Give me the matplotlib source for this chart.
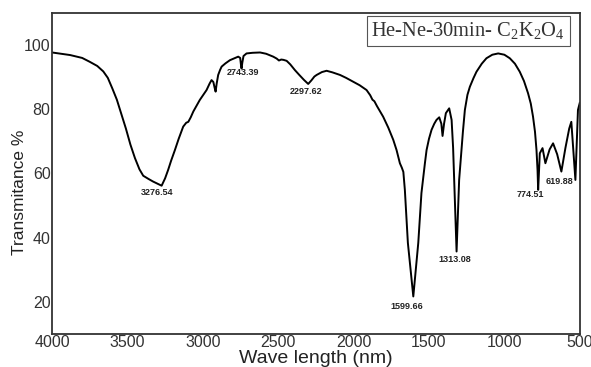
import matplotlib
matplotlib.use("Agg")
import matplotlib.pyplot as plt

plt.rcParams['font.family'] = ['Liberation Sans', 'DejaVu Sans']

wavenumber = [4000, 3940, 3880, 3800, 3750, 3700, 3660, 3630, 3600, 3570, 3540,
              3510, 3480, 3450, 3420, 3395, 3360, 3330, 3300, 3273, 3250, 3230,
              3210, 3185, 3160, 3130, 3110, 3096, 3080, 3063, 3040, 3020, 3000,
              2975, 2955, 2942, 2930, 2922, 2915, 2908, 2898, 2885, 2875, 2850,
              2820, 2790, 2765, 2752, 2746, 2743, 2738, 2730, 2710, 2670, 2620,
              2580, 2533, 2510, 2495, 2480, 2465, 2444, 2420, 2389, 2360, 2330,
              2301, 2280, 2260, 2245, 2210, 2179, 2140, 2090, 2050, 2003, 1960,
              1914, 1890, 1875, 1862, 1845, 1804, 1770, 1737, 1715, 1693, 1680,
              1670, 1660, 1640, 1604, 1571, 1550, 1527, 1516, 1500, 1483, 1465,
              1450, 1432, 1418, 1410, 1400, 1388, 1366, 1350, 1340, 1317, 1300,
              1290, 1275, 1262, 1245, 1229, 1205, 1185, 1150, 1119, 1080, 1041,
              1000, 964, 930, 898, 870, 843, 825, 810, 797, 787, 780, 776, 765,
              747, 728, 700, 677, 650, 622, 595, 570, 556, 540, 529, 512, 500]
transmittance = [97.7, 97.3, 96.9, 96.0, 94.8, 93.5, 91.8, 89.8, 86.5, 83.0, 78.5,
                 74.0, 69.0, 64.8, 61.3, 59.3, 58.3, 57.5, 56.8, 56.2, 58.5, 61.1,
                 64.0, 67.3, 70.8, 74.6, 75.8, 76.1, 77.5, 79.3, 81.2, 82.9, 84.3,
                 86.0, 88.0, 89.1, 88.5, 86.8, 85.5, 88.0, 90.7, 92.3, 93.3, 94.3,
                 95.3, 95.9, 96.4, 96.0, 93.5, 92.7, 94.5, 96.6, 97.4, 97.6, 97.7,
                 97.3, 96.4, 95.8, 95.2, 95.5, 95.4, 95.1, 94.0, 92.2, 90.7, 89.2,
                 87.9, 89.0, 90.2, 90.7, 91.6, 92.0, 91.5, 90.7, 89.8, 88.6, 87.5,
                 86.0, 84.4, 83.0, 82.5, 81.0, 77.7, 74.3, 70.5, 67.3, 63.2, 61.8,
                 60.5, 54.9, 38.4, 21.7, 38.4, 53.9, 63.2, 67.3, 70.8, 73.6, 75.5,
                 76.7, 77.5, 75.5, 71.7, 75.5, 78.8, 80.3, 76.7, 68.0, 35.7, 58.0,
                 64.0, 73.0, 79.8, 84.5, 87.0, 89.7, 91.7, 94.2, 95.9, 97.0, 97.4,
                 97.0, 95.9, 94.2, 91.7, 88.8, 85.0, 81.8, 77.7, 73.0, 67.3, 61.0, 54.9, 66.3,
                 67.9, 63.2, 67.5, 69.4, 66.0, 60.6, 68.0, 74.0, 76.1, 65.3, 58.0, 79.8, 82.0]

peak_labels = ["3276.54", "2743.39", "2297.62", "1599.66", "1313.08", "774.51", "619.88"]
label_x = [3305, 2733, 2318, 1649, 1328, 825, 637]
label_y = [54.0, 91.4, 85.5, 18.6, 33.1, 53.6, 57.5]

xticks = [4000, 3500, 3000, 2500, 2000, 1500, 1000, 500]
yticks = [20, 40, 60, 80, 100]

fig = plt.figure(figsize=(5.91, 3.67), dpi=100)
ax = fig.add_axes([0.088, 0.0899, 0.893, 0.8747])
ax.plot(wavenumber, transmittance, color="black", lw=1.4)
ax.set_xlim(4000, 500)
ax.set_ylim(10, 110)
ax.set_xticks(xticks)
ax.set_yticks(yticks)
ax.tick_params(length=0, pad=1, labelsize=11.5, colors="#333333")
for s in ax.spines.values():
    s.set_linewidth(1.3)
    s.set_color("#333333")

for t, x, y in zip(peak_labels, label_x, label_y):
    ax.text(x, y, t, fontsize=6.5, fontweight="bold", ha="center", va="center", color="#222222")

ax.text(0.972, 0.945, r"He-Ne-30min- C$\mathregular{_2}$K$\mathregular{_2}$O$\mathregular{_4}$",
        transform=ax.transAxes, ha="right", va="center", fontsize=14.8,
        family="Liberation Serif", color="#333333",
        bbox=dict(boxstyle="square,pad=0.22", fc="white", ec="#555555", lw=0.8))

ax.set_xlabel("Wave length (nm)", fontsize=14, labelpad=0, color="#222222")
ax.set_ylabel("Transmitance %", fontsize=12.5, color="#222222")
ax.yaxis.set_label_coords(-0.048, 0.44)

fig.savefig("out.png", dpi=100)
